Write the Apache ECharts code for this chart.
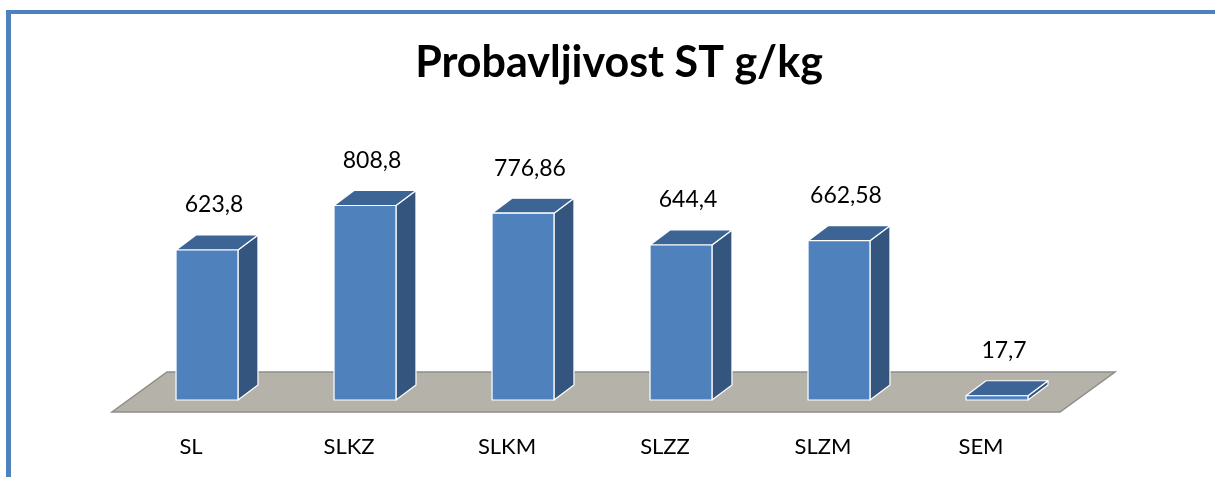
<!DOCTYPE html>
<html>
<head>
<meta charset="utf-8">
<script src="https://cdn.jsdelivr.net/npm/echarts@6/dist/echarts.min.js"></script>
<style>
html,body{margin:0;padding:0;background:#fff;}
#chart{width:1215px;height:477px;}
</style>
</head>
<body>
<div id="chart"></div>
<script>
const categories = ['SL', 'SLKZ', 'SLKM', 'SLZZ', 'SLZM', 'SEM'];
const values = [623.8, 808.8, 776.86, 644.4, 662.58, 17.7];
const titleText = 'Probavljivost ST g/kg';

const FONT = 'Lato, "Open Sans", sans-serif';
const chart = echarts.init(document.getElementById('chart'), null, {renderer: 'canvas'});

function fmt(v) { return String(v).replace('.', ','); }

const option = {
  backgroundColor: '#ffffff',
  animation: false,
  title: {
    text: titleText,
    left: 614, top: 37, textAlign: 'center',
    textStyle: {fontFamily: FONT, fontWeight: 'bold', fontSize: 43, color: '#000'}
  },
  graphic: [
    {type: 'line', shape: {x1: 6, y1: 12, x2: 1215, y2: 12}, style: {stroke: '#4F81BD', lineWidth: 4}, z: 100},
    {type: 'line', shape: {x1: 8.5, y1: 10, x2: 8.5, y2: 477}, style: {stroke: '#4F81BD', lineWidth: 5}, z: 100}
  ],
  grid: {left: 112, right: 155, top: 171.5, bottom: 65},
  xAxis: {
    type: 'category', data: categories,
    axisLine: {show: false}, axisTick: {show: false}, splitLine: {show: false},
    axisLabel: {fontFamily: FONT, fontSize: 22, color: '#000', margin: 24}
  },
  yAxis: {
    type: 'value', min: 0, max: 1000, show: false, splitLine: {show: false}
  },
  series: [
    {
      type: 'custom', z: 1, silent: true,
      data: [[0, 0]],
      renderItem: function (params, api) {
        const cs = params.coordSys;
        const fy = cs.y + cs.height;
        const x0 = cs.x, x1 = cs.x + cs.width;
        const dx = 55, dy = -40;
        return {
          type: 'polygon',
          shape: {points: [[x0, fy], [x1, fy], [x1 + dx, fy + dy], [x0 + dx, fy + dy]]},
          style: {fill: '#b5b2aa', stroke: '#8f8d88', lineWidth: 1.5}
        };
      }
    },
    {
      type: 'custom', z: 2, silent: true,
      data: values.map((v, i) => [i, v]),
      renderItem: function (params, api) {
        const i = api.value(0), v = api.value(1);
        const base = api.coord([i, 0]);
        const top = api.coord([i, v]);
        const band = api.size([1, 0])[0];
        const hw = band * 0.196;
        const ox = 16, oy = -12;
        const ddx = 20, ddy = -15;
        const cx = base[0] + ox;
        const by = base[1] + oy;
        const ty = top[1] + oy;
        const L = cx - hw, R = cx + hw;
        const edge = {stroke: '#ffffff', lineWidth: 1.2, lineJoin: 'round'};
        return {
          type: 'group',
          children: [
            {type: 'polygon', shape: {points: [[R, by], [R + ddx, by + ddy], [R + ddx, ty + ddy], [R, ty]]},
             style: Object.assign({fill: '#34557E'}, edge)},
            {type: 'polygon', shape: {points: [[L, ty], [R, ty], [R + ddx, ty + ddy], [L + ddx, ty + ddy]]},
             style: Object.assign({fill: '#3C6494'}, edge)},
            {type: 'rect', shape: {x: L, y: ty, width: R - L, height: by - ty},
             style: Object.assign({fill: '#4F81BD'}, edge)},
            {type: 'text', x: cx + 7, y: ty - 45,
             style: {text: fmt(v), fontFamily: FONT, fontSize: 23, fill: '#000', align: 'center', verticalAlign: 'middle'}}
          ]
        };
      }
    }
  ]
};
chart.setOption(option);
</script>
</body>
</html>
